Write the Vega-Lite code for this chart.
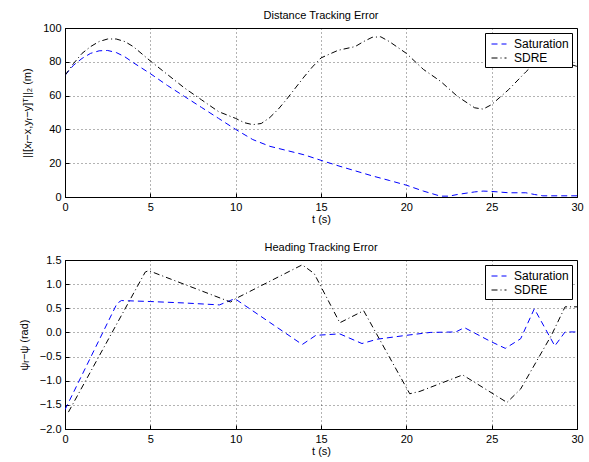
{
  "$schema": "https://vega.github.io/schema/vega-lite/v6.json",
  "background": "white",
  "autosize": {"type": "none"},
  "padding": {"left": 65, "top": 28, "right": 12, "bottom": 434},
  "datasets": {
    "dist": [
      {"t": 0, "v": 72, "series": "Saturation"},
      {"t": 0.5, "v": 78, "series": "Saturation"},
      {"t": 1, "v": 82, "series": "Saturation"},
      {"t": 1.5, "v": 85, "series": "Saturation"},
      {"t": 2, "v": 86.5, "series": "Saturation"},
      {"t": 2.5, "v": 86.7, "series": "Saturation"},
      {"t": 3, "v": 85.5, "series": "Saturation"},
      {"t": 3.5, "v": 83, "series": "Saturation"},
      {"t": 4, "v": 79.5, "series": "Saturation"},
      {"t": 5, "v": 73, "series": "Saturation"},
      {"t": 6, "v": 66, "series": "Saturation"},
      {"t": 7, "v": 59.5, "series": "Saturation"},
      {"t": 8, "v": 53, "series": "Saturation"},
      {"t": 9, "v": 46.5, "series": "Saturation"},
      {"t": 10, "v": 40, "series": "Saturation"},
      {"t": 11, "v": 34, "series": "Saturation"},
      {"t": 12, "v": 30, "series": "Saturation"},
      {"t": 13, "v": 27.5, "series": "Saturation"},
      {"t": 14, "v": 25, "series": "Saturation"},
      {"t": 15, "v": 21.7, "series": "Saturation"},
      {"t": 16, "v": 18.5, "series": "Saturation"},
      {"t": 17, "v": 15.5, "series": "Saturation"},
      {"t": 18, "v": 12.5, "series": "Saturation"},
      {"t": 19, "v": 9.8, "series": "Saturation"},
      {"t": 20, "v": 7, "series": "Saturation"},
      {"t": 21, "v": 3.5, "series": "Saturation"},
      {"t": 22, "v": 0.5, "series": "Saturation"},
      {"t": 22.5, "v": 0.5, "series": "Saturation"},
      {"t": 23, "v": 1.5, "series": "Saturation"},
      {"t": 24, "v": 3, "series": "Saturation"},
      {"t": 24.5, "v": 3.5, "series": "Saturation"},
      {"t": 25, "v": 3.3, "series": "Saturation"},
      {"t": 26, "v": 2.5, "series": "Saturation"},
      {"t": 27, "v": 2.5, "series": "Saturation"},
      {"t": 27.5, "v": 1.5, "series": "Saturation"},
      {"t": 28, "v": 0.7, "series": "Saturation"},
      {"t": 30, "v": 0.7, "series": "Saturation"},
      {"t": 0, "v": 72, "series": "SDRE"},
      {"t": 0.5, "v": 79, "series": "SDRE"},
      {"t": 1, "v": 85, "series": "SDRE"},
      {"t": 1.5, "v": 89, "series": "SDRE"},
      {"t": 2, "v": 92, "series": "SDRE"},
      {"t": 2.5, "v": 93.5, "series": "SDRE"},
      {"t": 3, "v": 93.5, "series": "SDRE"},
      {"t": 3.5, "v": 92, "series": "SDRE"},
      {"t": 4, "v": 89, "series": "SDRE"},
      {"t": 5, "v": 80.5, "series": "SDRE"},
      {"t": 6, "v": 72.5, "series": "SDRE"},
      {"t": 7, "v": 64.5, "series": "SDRE"},
      {"t": 8, "v": 57.5, "series": "SDRE"},
      {"t": 9, "v": 50.5, "series": "SDRE"},
      {"t": 10, "v": 46.5, "series": "SDRE"},
      {"t": 10.5, "v": 44, "series": "SDRE"},
      {"t": 11, "v": 42.8, "series": "SDRE"},
      {"t": 11.5, "v": 43.5, "series": "SDRE"},
      {"t": 12, "v": 47, "series": "SDRE"},
      {"t": 12.5, "v": 52, "series": "SDRE"},
      {"t": 13, "v": 58, "series": "SDRE"},
      {"t": 13.5, "v": 64.5, "series": "SDRE"},
      {"t": 14, "v": 71, "series": "SDRE"},
      {"t": 14.5, "v": 77, "series": "SDRE"},
      {"t": 15, "v": 82.3, "series": "SDRE"},
      {"t": 16, "v": 86.8, "series": "SDRE"},
      {"t": 17, "v": 89, "series": "SDRE"},
      {"t": 17.5, "v": 92, "series": "SDRE"},
      {"t": 18, "v": 94.5, "series": "SDRE"},
      {"t": 18.5, "v": 94.8, "series": "SDRE"},
      {"t": 19, "v": 92, "series": "SDRE"},
      {"t": 20, "v": 85, "series": "SDRE"},
      {"t": 21, "v": 75.5, "series": "SDRE"},
      {"t": 22, "v": 68.5, "series": "SDRE"},
      {"t": 23, "v": 59.5, "series": "SDRE"},
      {"t": 24, "v": 52.8, "series": "SDRE"},
      {"t": 24.5, "v": 52, "series": "SDRE"},
      {"t": 25, "v": 54.7, "series": "SDRE"},
      {"t": 26, "v": 63.6, "series": "SDRE"},
      {"t": 27, "v": 74, "series": "SDRE"},
      {"t": 27.5, "v": 79, "series": "SDRE"},
      {"t": 28, "v": 80.5, "series": "SDRE"},
      {"t": 29, "v": 80.3, "series": "SDRE"},
      {"t": 30, "v": 77.3, "series": "SDRE"}
    ],
    "head": [
      {"t": 0, "v": -1.6, "series": "Saturation"},
      {"t": 3.05, "v": 0.6, "series": "Saturation"},
      {"t": 3.3, "v": 0.66, "series": "Saturation"},
      {"t": 5, "v": 0.64, "series": "Saturation"},
      {"t": 7, "v": 0.61, "series": "Saturation"},
      {"t": 9.05, "v": 0.57, "series": "Saturation"},
      {"t": 9.95, "v": 0.7, "series": "Saturation"},
      {"t": 13.9, "v": -0.25, "series": "Saturation"},
      {"t": 14.7, "v": -0.06, "series": "Saturation"},
      {"t": 16.1, "v": -0.03, "series": "Saturation"},
      {"t": 17.4, "v": -0.23, "series": "Saturation"},
      {"t": 18.3, "v": -0.14, "series": "Saturation"},
      {"t": 20, "v": -0.06, "series": "Saturation"},
      {"t": 21.4, "v": 0, "series": "Saturation"},
      {"t": 22.9, "v": 0.01, "series": "Saturation"},
      {"t": 23.4, "v": 0.1, "series": "Saturation"},
      {"t": 24.9, "v": -0.18, "series": "Saturation"},
      {"t": 25.8, "v": -0.33, "series": "Saturation"},
      {"t": 26.7, "v": -0.13, "series": "Saturation"},
      {"t": 27.5, "v": 0.49, "series": "Saturation"},
      {"t": 28.7, "v": -0.28, "series": "Saturation"},
      {"t": 29.3, "v": 0.01, "series": "Saturation"},
      {"t": 30, "v": 0.01, "series": "Saturation"},
      {"t": 0.2, "v": -1.65, "series": "SDRE"},
      {"t": 4.7, "v": 1.25, "series": "SDRE"},
      {"t": 4.9, "v": 1.28, "series": "SDRE"},
      {"t": 9.7, "v": 0.63, "series": "SDRE"},
      {"t": 10, "v": 0.7, "series": "SDRE"},
      {"t": 13.9, "v": 1.4, "series": "SDRE"},
      {"t": 14.6, "v": 1.22, "series": "SDRE"},
      {"t": 16.1, "v": 0.2, "series": "SDRE"},
      {"t": 17.5, "v": 0.45, "series": "SDRE"},
      {"t": 20.2, "v": -1.27, "series": "SDRE"},
      {"t": 20.8, "v": -1.22, "series": "SDRE"},
      {"t": 23.3, "v": -0.88, "series": "SDRE"},
      {"t": 25.9, "v": -1.45, "series": "SDRE"},
      {"t": 26.7, "v": -1.17, "series": "SDRE"},
      {"t": 28.5, "v": -0.06, "series": "SDRE"},
      {"t": 29.3, "v": 0.53, "series": "SDRE"},
      {"t": 30, "v": 0.53, "series": "SDRE"}
    ]
  },
  "config": {
    "font": "Liberation Sans",
    "view": {"stroke": "black", "strokeWidth": 1},
    "axis": {
      "labelFont": "Liberation Sans",
      "labelFontSize": 11,
      "labelColor": "black",
      "labelFlush": false,
      "titleFont": "Liberation Sans",
      "titleFontSize": 11,
      "titleFontWeight": "normal",
      "titleColor": "black",
      "domainColor": "black",
      "tickColor": "black",
      "tickSize": -4,
      "labelPadding": 8,
      "gridColor": "black",
      "gridOpacity": 0.6,
      "gridDash": [1, 3]
    },
    "title": {"font": "Liberation Sans", "fontSize": 11, "fontWeight": "normal", "color": "black", "offset": 1},
    "legend": {
      "orient": "top-right",
      "offset": 5,
      "strokeColor": "black",
      "fillColor": "white",
      "padding": 3,
      "labelFont": "Liberation Sans",
      "labelFontSize": 12,
      "labelColor": "black",
      "symbolType": "stroke",
      "symbolSize": 225,
      "symbolOffset": 3,
      "labelOffset": 7,
      "symbolStrokeWidth": 1,
      "rowPadding": -2,
      "cornerRadius": 0
    }
  },
  "bounds": "flush",
  "spacing": 63,
  "resolve": {
    "scale": {"color": "independent", "strokeDash": "independent"},
    "legend": {"color": "independent", "strokeDash": "independent"}
  },
  "vconcat": [
    {
      "title": "Distance Tracking Error",
      "width": 512,
      "height": 169,
      "data": {"name": "dist"},
      "mark": {"type": "line", "strokeWidth": 1, "clip": true},
      "encoding": {
        "x": {"field": "t", "type": "quantitative", "scale": {"domain": [0, 30], "nice": false}, "axis": {"title": "t (s)", "values": [0, 5, 10, 15, 20, 25, 30], "titlePadding": 1}},
        "y": {"field": "v", "type": "quantitative", "scale": {"domain": [0, 100], "nice": false}, "axis": {"title": "||[xᵣ−x,yᵣ−y]ᵀ||₂ (m)", "values": [0, 20, 40, 60, 80, 100], "titlePadding": 10}},
        "color": {"field": "series", "type": "nominal", "scale": {"domain": ["Saturation", "SDRE"], "range": ["#0000ff", "#000000"]}, "legend": {"title": null}},
        "strokeDash": {"field": "series", "type": "nominal", "scale": {"domain": ["Saturation", "SDRE"], "range": [[6, 4], [6, 3, 1, 3]]}, "legend": {"title": null}}
      }
    },
    {
      "title": "Heading Tracking Error",
      "width": 512,
      "height": 169,
      "data": {"name": "head"},
      "mark": {"type": "line", "strokeWidth": 1, "clip": true},
      "encoding": {
        "x": {"field": "t", "type": "quantitative", "scale": {"domain": [0, 30], "nice": false}, "axis": {"title": "t (s)", "values": [0, 5, 10, 15, 20, 25, 30], "titlePadding": 1}},
        "y": {"field": "v", "type": "quantitative", "scale": {"domain": [-2, 1.5], "nice": false}, "axis": {"title": "ψᵣ−ψ (rad)", "values": [-2, -1.5, -1, -0.5, 0, 0.5, 1, 1.5], "titlePadding": 10}},
        "color": {"field": "series", "type": "nominal", "scale": {"domain": ["Saturation", "SDRE"], "range": ["#0000ff", "#000000"]}, "legend": {"title": null}},
        "strokeDash": {"field": "series", "type": "nominal", "scale": {"domain": ["Saturation", "SDRE"], "range": [[6, 4], [6, 3, 1, 3]]}, "legend": {"title": null}}
      }
    }
  ]
}
